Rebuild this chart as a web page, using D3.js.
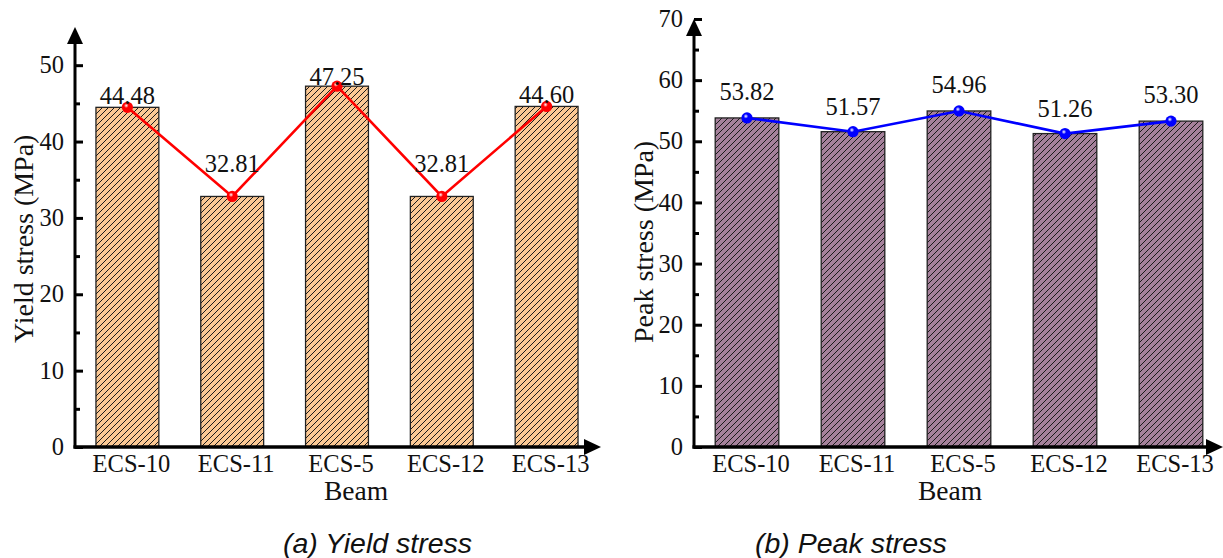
<!DOCTYPE html>
<html>
<head>
<meta charset="utf-8">
<script src="https://cdn.jsdelivr.net/npm/d3@7"></script>
<style>
  body { margin: 0; background: #fff; }
  svg text { font-family: "Liberation Serif", "Times New Roman", serif; fill: #111; }
  .caption { font-family: "Liberation Sans", Arial, sans-serif !important; font-style: italic; }
</style>
</head>
<body>
<div id="chart"></div>
<script>
// Data
const beams = ['ECS-10', 'ECS-11', 'ECS-5', 'ECS-12', 'ECS-13'];
const yieldStress = [44.48, 32.81, 47.25, 32.81, 44.60];
const peakStress = [53.82, 51.57, 54.96, 51.26, 53.30];
const yieldTicks = [0, 10, 20, 30, 40, 50];
const peakTicks = [0, 10, 20, 30, 40, 50, 60, 70];

const W = 1223, H = 558;
const svg = d3.select('#chart').append('svg')
    .attr('width', W)
    .attr('height', H);

const defs = svg.append('defs');

// Hatch patterns and shiny markers
function hatch(id, fill) {
    const p = defs.append('pattern')
        .attr('id', id)
        .attr('patternUnits', 'userSpaceOnUse')
        .attr('width', 6)
        .attr('height', 6);
    p.append('rect').attr('width', 6).attr('height', 6).attr('fill', fill);
    p.append('path')
        .attr('d', 'M-1,1 l2,-2 M0,6 l6,-6 M5,7 l2,-2')
        .attr('stroke', '#1a1a1a')
        .attr('stroke-width', 1);
}
hatch('hatchPeach', '#fbc894');
hatch('hatchMauve', '#a5819b');

function shine(id, color) {
    const g = defs.append('radialGradient')
        .attr('id', id)
        .attr('cx', '40%').attr('cy', '35%').attr('r', '60%');
    g.append('stop').attr('offset', '0%').attr('stop-color', '#fff');
    g.append('stop').attr('offset', '35%').attr('stop-color', color);
    g.append('stop').attr('offset', '100%').attr('stop-color', color);
}
shine('shineRed', '#ff0000');
shine('shineBlue', '#0000ff');

function drawPanel(cfg) {
    const g = svg.append('g');

    const x = d3.scaleBand()
        .domain(beams)
        .range(cfg.xRange)
        .paddingInner(0.4)
        .paddingOuter(0.2);

    const y = d3.scaleLinear()
        .domain(cfg.yDomain)
        .range([447, cfg.yTop]);

    const x0 = cfg.xRange[0];

    // bars
    g.selectAll('rect.bar')
        .data(cfg.values)
        .join('rect')
        .attr('class', 'bar')
        .attr('x', (d, i) => x(beams[i]))
        .attr('y', d => y(d))
        .attr('width', x.bandwidth())
        .attr('height', d => y(0) - y(d))
        .attr('fill', `url(#${cfg.pattern})`)
        .attr('stroke', '#222')
        .attr('stroke-width', 1.3);

    // y axis (inward ticks, minor every 5)
    const yAxis = g.append('g')
        .attr('transform', `translate(${x0},0)`)
        .call(d3.axisRight(y).tickValues(cfg.ticks).tickSize(8).tickFormat(''));
    yAxis.select('.domain').remove();
    yAxis.selectAll('line').attr('stroke', '#000').attr('stroke-width', 3);

    const minor = g.append('g')
        .attr('transform', `translate(${x0},0)`)
        .call(d3.axisRight(y).tickValues(cfg.ticks.map(t => t + 5).filter(t => t < cfg.ticks[cfg.ticks.length - 1])).tickSize(5).tickFormat(''));
    minor.select('.domain').remove();
    minor.selectAll('line').attr('stroke', '#000').attr('stroke-width', 3);

    g.selectAll('text.ytick')
        .data(cfg.ticks)
        .join('text')
        .attr('class', 'ytick')
        .attr('x', x0 - 11)
        .attr('y', d => y(d))
        .attr('dy', '0.33em')
        .attr('text-anchor', 'end')
        .style('font-size', '24.5px')
        .text(d => d);

    // axis lines with arrows
    g.append('line')
        .attr('x1', x0).attr('y1', 448.5)
        .attr('x2', x0).attr('y2', cfg.yTop + 12)
        .attr('stroke', '#000').attr('stroke-width', 3);
    g.append('path')
        .attr('d', `M${x0 - 8},${cfg.yTop + 17} L${x0},${cfg.yTop} L${x0 + 8},${cfg.yTop + 17} Z`)
        .attr('fill', '#000');

    g.append('line')
        .attr('x1', x0 - 1.5).attr('y1', 447)
        .attr('x2', cfg.xEnd - 12).attr('y2', 447)
        .attr('stroke', '#000').attr('stroke-width', 3.5);
    g.append('path')
        .attr('d', `M${cfg.xEnd - 17},${447 - 8} L${cfg.xEnd},447 L${cfg.xEnd - 17},${447 + 8} Z`)
        .attr('fill', '#000');

    // category labels
    g.selectAll('text.xtick')
        .data(beams)
        .join('text')
        .attr('class', 'xtick')
        .attr('x', d => x(d) + x.bandwidth() / 2 + 4)
        .attr('y', 472)
        .attr('text-anchor', 'middle')
        .style('font-size', '24.5px')
        .text(d => d);

    // connecting line and markers
    const cx = (d, i) => x(beams[i]) + x.bandwidth() / 2;
    const line = d3.line().x(cx).y(d => y(d));
    g.append('path')
        .datum(cfg.values)
        .attr('d', line)
        .attr('fill', 'none')
        .attr('stroke', cfg.lineColor)
        .attr('stroke-width', 2.6);

    g.selectAll('circle.pt')
        .data(cfg.values)
        .join('circle')
        .attr('class', 'pt')
        .attr('cx', cx)
        .attr('cy', d => y(d))
        .attr('r', 5.6)
        .attr('fill', `url(#${cfg.shine})`);

    // value labels
    g.selectAll('text.val')
        .data(cfg.values)
        .join('text')
        .attr('class', 'val')
        .attr('x', cx)
        .attr('y', (d, i) => y(d) - cfg.labelLift[i])
        .attr('text-anchor', 'middle')
        .style('font-size', '24.5px')
        .text(d => d.toFixed(2));

    // axis titles
    g.append('text')
        .attr('transform', `translate(${cfg.yTitleX},343) rotate(-90)`)
        .attr('text-anchor', 'start')
        .style('font-size', '28px')
        .text(cfg.yTitle);

    g.append('text')
        .attr('x', cfg.beamX)
        .attr('y', 500)
        .attr('text-anchor', 'middle')
        .style('font-size', '27.5px')
        .text('Beam');

    g.append('text')
        .attr('class', 'caption')
        .attr('x', cfg.captionX)
        .attr('y', 553)
        .style('font-size', '28.5px')
        .text(cfg.caption);
}

drawPanel({
    values: yieldStress,
    ticks: yieldTicks,
    xRange: [75, 599],
    xEnd: 601,
    yDomain: [0, 55],
    yTop: 27,
    pattern: 'hatchPeach',
    shine: 'shineRed',
    lineColor: '#ff0000',
    labelLift: [3, 24, 1, 24, 3],
    yTitle: 'Yield stress (MPa)',
    yTitleX: 33,
    beamX: 356,
    caption: '(a) Yield stress',
    captionX: 283
});

drawPanel({
    values: peakStress,
    ticks: peakTicks,
    xRange: [694, 1224],
    xEnd: 1223,
    yDomain: [0, 70],
    yTop: 19,
    pattern: 'hatchMauve',
    shine: 'shineBlue',
    lineColor: '#0000ff',
    labelLift: [18, 17, 18, 17, 18],
    yTitle: 'Peak stress (MPa)',
    yTitleX: 653,
    beamX: 950,
    caption: '(b) Peak stress',
    captionX: 755
});
</script>
</body>
</html>
